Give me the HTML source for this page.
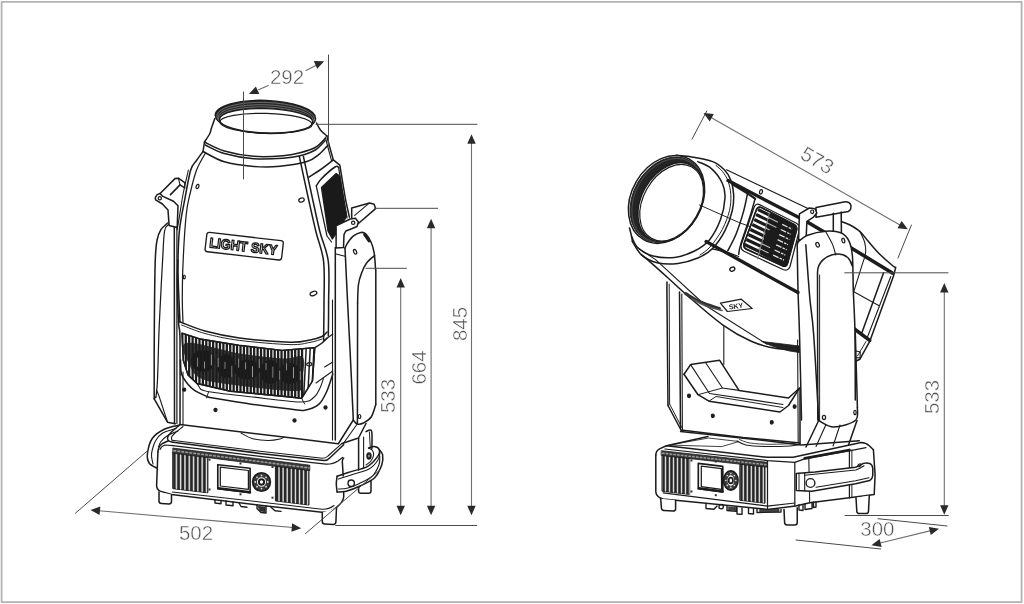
<!DOCTYPE html>
<html><head><meta charset="utf-8"><title>Dimensions</title>
<style>
html,body{margin:0;padding:0;background:#fff;}
body{width:1024px;height:604px;overflow:hidden;position:relative;font-family:"Liberation Sans",sans-serif;}
.frame{position:absolute;left:0;top:0;width:1020px;height:600px;border:2px solid #b4b4b4;box-shadow:inset 0 0 0 1px #dcdcdc;}
svg{position:absolute;left:0;top:0;filter:grayscale(1);}
.dim{font-family:"Liberation Sans",sans-serif;fill:#535353;stroke:#fff;stroke-width:0.45px;paint-order:fill stroke;}
.logo{font-family:"Liberation Sans",sans-serif;font-weight:bold;}
</style></head><body>
<svg width="1024" height="604" viewBox="0 0 1024 604" stroke-linecap="round" stroke-linejoin="round">
<rect x="1.6" y="1.8" width="1020" height="600.3" fill="none" stroke="#b2b2b2" stroke-width="1.8"/>
<ellipse cx="265.4" cy="116.9" rx="50.2" ry="16.5" fill="#262626" stroke="#1c1c1c" stroke-width="1.38" transform="rotate(2.0 265.4 116.9)"/>
<ellipse cx="265.7" cy="117.6" rx="48.900000000000006" ry="15.200000000000001" fill="none" stroke="#8a8a8a" stroke-width="0.69" transform="rotate(1.9 265.7 117.6)"/>
<ellipse cx="265.7" cy="118.6" rx="47.6" ry="13.8" fill="none" stroke="#8a8a8a" stroke-width="0.69" transform="rotate(1.9 265.7 118.6)"/>
<ellipse cx="265.7" cy="119.6" rx="46.300000000000004" ry="12.6" fill="none" stroke="#8a8a8a" stroke-width="0.69" transform="rotate(1.9 265.7 119.6)"/>
<ellipse cx="266.1" cy="120.8" rx="46.7" ry="12.2" fill="#fff" stroke="#1c1c1c" stroke-width="1.38" transform="rotate(1.7 266.1 120.8)"/>
<ellipse cx="266" cy="123.3" rx="46.2" ry="9.9" fill="none" stroke="#1c1c1c" stroke-width="1.24" transform="rotate(1.6 266 123.3)"/>
<path d="M214.8,118.6 C214.2,120.2 212.4,125.4 211.5,128.0 C210.6,130.6 210.8,131.7 209.6,134.0 C208.4,136.3 205.3,140.7 204.5,142.0" fill="none" stroke="#1c1c1c" stroke-width="1.52"/>
<path d="M316.6,123.0 C317.2,124.2 318.7,127.8 320.4,130.0 C322.1,132.2 325.8,134.9 326.9,135.9" fill="none" stroke="#1c1c1c" stroke-width="1.52"/>
<path d="M204.5,142.0 C207.8,143.5 216.1,148.6 224.3,151.0 C232.5,153.4 243.8,155.5 253.6,156.3 C263.4,157.1 275.2,156.4 282.9,155.8 C290.6,155.2 294.6,154.2 300.0,152.8 C305.4,151.4 311.0,149.9 315.2,147.5 C319.4,145.1 323.5,140.0 325.1,138.5" fill="none" stroke="#1c1c1c" stroke-width="1.52"/>
<path d="M205.3,145.0 C208.5,146.4 216.2,151.2 224.3,153.5 C232.4,155.8 243.8,157.9 253.6,158.7 C263.4,159.5 275.2,158.8 282.9,158.3 C290.6,157.8 294.6,157.2 300.0,155.8 C305.4,154.4 311.0,152.6 315.2,150.0 C319.4,147.4 323.5,142.1 325.1,140.5" fill="none" stroke="#1c1c1c" stroke-width="1.52"/>
<path d="M203.0,151.5 C206.6,153.2 215.9,159.3 224.3,161.8 C232.7,164.3 244.3,165.7 253.6,166.4 C262.9,167.2 271.1,167.1 280.0,166.3 C288.9,165.5 300.6,163.6 307.0,161.6 C313.4,159.6 315.4,157.1 318.7,154.6 C322.0,152.1 325.5,147.8 326.9,146.4" fill="none" stroke="#1c1c1c" stroke-width="1.52"/>
<path d="M204.5,142.0 L203.0,151.5" fill="none" stroke="#1c1c1c" stroke-width="1.52" />
<path d="M326.9,135.9 C327.3,137.4 328.1,141.2 329.2,145.2 C330.3,149.2 332.6,157.4 333.3,159.9" fill="none" stroke="#1c1c1c" stroke-width="1.52"/>
<path d="M325.3,137.0 C325.7,138.5 326.6,142.1 327.6,146.0 C328.6,149.9 330.9,158.1 331.5,160.5" fill="none" stroke="#1c1c1c" stroke-width="1.10"/>
<path d="M299.3,156.4 C300.9,163.7 305.9,187.4 308.7,200.0 C311.5,212.6 313.5,221.8 316.0,232.0 C318.5,242.2 322.3,249.7 323.6,261.5 C324.9,273.3 324.0,289.9 324.0,303.0 C324.0,316.1 323.7,333.8 323.6,340.0" fill="none" stroke="#1c1c1c" stroke-width="1.52"/>
<path d="M303.4,156.4 C305.0,163.7 310.0,187.4 312.8,200.0 C315.6,212.6 317.4,221.8 320.0,232.0 C322.6,242.2 326.9,249.7 328.3,261.5 C329.7,273.3 328.6,290.6 328.6,303.0 C328.6,315.4 328.4,330.5 328.3,336.0" fill="none" stroke="#1c1c1c" stroke-width="1.52"/>
<path d="M309.0,177.0 C310.8,175.8 315.9,172.8 320.0,170.0 C324.1,167.2 331.1,161.6 333.3,159.9" fill="none" stroke="#1c1c1c" stroke-width="1.52"/>
<path d="M333.3,159.9 L339.8,165.2 L345.6,200.0 L349.4,217.2" fill="none" stroke="#1c1c1c" stroke-width="1.52" />
<path d="M316.3,186.0 C317.1,184.9 317.9,182.4 321.0,179.2 C324.1,176.0 332.1,168.9 335.0,167.0 C337.9,165.1 338.0,167.4 338.6,167.5" fill="none" stroke="#1c1c1c" stroke-width="1.52"/>
<path d="M338.6,167.5 L343.9,200.0 L347.0,218.0" fill="none" stroke="#1c1c1c" stroke-width="1.24" />
<path d="M316.3,186.0 L327.0,236.0 L331.5,242.0" fill="none" stroke="#1c1c1c" stroke-width="1.24" />
<path d="M321.5,187.4 L336.2,173.6 L339.6,176.0 L346.6,216.5 L332.4,239.0 L328.0,231.0 Z" fill="#1a1a1a" stroke="#1c1c1c" stroke-width="1.38" />
<path d="M203.0,151.5 C201.9,153.0 198.6,157.4 196.5,160.5 C194.4,163.6 192.7,163.4 190.7,170.0 C188.7,176.6 186.6,189.9 184.7,199.8 C182.8,209.7 180.6,219.6 179.5,229.6 C178.4,239.6 178.2,251.1 178.0,260.0 C177.8,268.9 178.0,272.7 178.3,283.0 C178.6,293.3 179.7,315.5 180.0,322.0" fill="none" stroke="#1c1c1c" stroke-width="1.52"/>
<path d="M188.4,170.0 C187.6,173.7 184.9,185.1 183.5,192.0 C182.1,198.9 181.2,205.4 180.2,211.7 C179.2,218.0 177.7,226.6 177.2,229.6" fill="none" stroke="#1c1c1c" stroke-width="1.10"/>
<path d="M205.5,153.0 C204.0,155.8 199.2,163.2 196.6,170.0 C194.0,176.8 191.7,186.6 190.0,194.0 C188.3,201.4 187.3,203.7 186.2,214.7 C185.1,225.7 183.8,245.8 183.2,260.0 C182.5,274.2 182.3,289.7 182.3,300.0 C182.3,310.3 182.9,318.3 183.0,322.0" fill="none" stroke="#1c1c1c" stroke-width="1.24"/>
<path d="M180.0,322.0 C180.3,322.1 177.4,321.0 181.6,322.5 C185.8,324.0 195.4,328.4 205.0,331.0 C214.6,333.6 225.2,336.1 239.4,338.0 C253.6,339.9 278.2,341.9 290.0,342.2 C301.8,342.5 304.7,340.9 310.0,340.0 C315.3,339.1 319.2,337.8 322.0,336.5 C324.8,335.2 326.2,332.8 327.0,332.0" fill="none" stroke="#1c1c1c" stroke-width="1.52"/>
<path d="M181.6,325.0 C185.5,326.4 195.4,330.9 205.0,333.5 C214.6,336.1 225.2,338.5 239.4,340.4 C253.6,342.2 278.2,344.3 290.0,344.6 C301.8,344.9 304.7,343.3 310.0,342.4 C315.3,341.5 320.0,339.6 322.0,339.0" fill="none" stroke="#1c1c1c" stroke-width="0.97"/>
<ellipse cx="197.5" cy="186.5" rx="1.3" ry="2.2" fill="none" stroke="#1c1c1c" stroke-width="1.24" transform="rotate(20 197.5 186.5)"/>
<ellipse cx="301.5" cy="200" rx="2.8" ry="2.0" fill="none" stroke="#1c1c1c" stroke-width="1.24" transform="rotate(-20 301.5 200)"/>
<ellipse cx="184.3" cy="277" rx="1.0" ry="2.0" fill="none" stroke="#1c1c1c" stroke-width="1.24"/>
<ellipse cx="313.5" cy="293.5" rx="3.5" ry="2.0" fill="none" stroke="#1c1c1c" stroke-width="1.24" transform="rotate(-20 313.5 293.5)"/>
<g transform="translate(244.2 246.2) rotate(6.6)"><rect x="-38.5" y="-9.7" width="77" height="19.4" rx="2.6" fill="#fff" stroke="#1c1c1c" stroke-width="1.35"/><text x="-0.8" y="5" text-anchor="middle" class="logo" font-size="13.8" fill="#fff" stroke="#1c1c1c" stroke-width="1.35" textLength="68" lengthAdjust="spacingAndGlyphs">LIGHT SKY</text></g>
<clipPath id="gclip"><path d="M182,333.2 L200,339 L239,345.3 L282,350.4 L314.8,347.7 L312.5,381 L301.6,398.4 L290,397 L230,391.2 L197,383.5 L188,375 L183.2,360 Z"/></clipPath>
<path d="M182,333.2 L200,339 L239,345.3 L282,350.4 L314.8,347.7 L312.5,381 L301.6,398.4 L290,397 L230,391.2 L197,383.5 L188,375 L183.2,360 Z" fill="#fff" stroke="#1c1c1c" stroke-width="1.3"/>
<g clip-path="url(#gclip)">
<path d="M186.0,343.0 C194.3,340.9 223.8,350.9 240.0,353.5 C256.2,356.1 272.5,357.8 283.0,358.5 C293.5,359.2 300.0,353.4 303.0,357.5 C306.0,361.6 302.3,377.4 301.0,383.0 C299.7,388.6 306.8,390.8 295.0,391.0 C283.2,391.2 245.7,386.6 230.0,384.5 C214.3,382.4 207.7,381.6 201.0,378.5 C194.3,375.4 192.5,371.9 190.0,366.0 C187.5,360.1 177.7,345.1 186.0,343.0 Z" fill="#3c3c3c" stroke="none" stroke-width="0.00"/>
<g fill="#161616" opacity="0.9">
<ellipse cx="203" cy="361" rx="12" ry="11"/>
<ellipse cx="226" cy="366" rx="9" ry="12"/>
<ellipse cx="247" cy="369.5" rx="13" ry="10"/>
<ellipse cx="270" cy="372" rx="10" ry="12"/>
<ellipse cx="290" cy="373.5" rx="11" ry="10.5"/>
</g>
<rect x="181.20" y="325" width="2.3" height="80" fill="#1d1d1d"/>
<rect x="184.62" y="325" width="2.3" height="80" fill="#1d1d1d"/>
<rect x="188.04" y="325" width="2.3" height="80" fill="#1d1d1d"/>
<rect x="191.46" y="325" width="2.3" height="80" fill="#1d1d1d"/>
<rect x="194.88" y="325" width="2.3" height="80" fill="#1d1d1d"/>
<rect x="197.23" y="357.7" width="1.0" height="9" fill="#9a9a9a"/>
<rect x="198.30" y="325" width="2.3" height="80" fill="#1d1d1d"/>
<rect x="201.72" y="325" width="2.3" height="80" fill="#1d1d1d"/>
<rect x="204.07" y="361.5" width="1.0" height="7" fill="#9a9a9a"/>
<rect x="205.14" y="325" width="2.3" height="80" fill="#1d1d1d"/>
<rect x="208.56" y="325" width="2.3" height="80" fill="#1d1d1d"/>
<rect x="210.91" y="354.3" width="1.0" height="11" fill="#9a9a9a"/>
<rect x="211.98" y="325" width="2.3" height="80" fill="#1d1d1d"/>
<rect x="215.40" y="325" width="2.3" height="80" fill="#1d1d1d"/>
<rect x="217.75" y="358.1" width="1.0" height="9" fill="#9a9a9a"/>
<rect x="218.82" y="325" width="2.3" height="80" fill="#1d1d1d"/>
<rect x="222.24" y="325" width="2.3" height="80" fill="#1d1d1d"/>
<rect x="224.59" y="361.9" width="1.0" height="7" fill="#9a9a9a"/>
<rect x="225.66" y="325" width="2.3" height="80" fill="#1d1d1d"/>
<rect x="229.08" y="325" width="2.3" height="80" fill="#1d1d1d"/>
<rect x="231.43" y="365.8" width="1.0" height="11" fill="#9a9a9a"/>
<rect x="232.50" y="325" width="2.3" height="80" fill="#1d1d1d"/>
<rect x="235.92" y="325" width="2.3" height="80" fill="#1d1d1d"/>
<rect x="238.27" y="358.6" width="1.0" height="9" fill="#9a9a9a"/>
<rect x="239.34" y="325" width="2.3" height="80" fill="#1d1d1d"/>
<rect x="242.76" y="325" width="2.3" height="80" fill="#1d1d1d"/>
<rect x="245.11" y="362.4" width="1.0" height="7" fill="#9a9a9a"/>
<rect x="246.18" y="325" width="2.3" height="80" fill="#1d1d1d"/>
<rect x="249.60" y="325" width="2.3" height="80" fill="#1d1d1d"/>
<rect x="251.95" y="366.2" width="1.0" height="11" fill="#9a9a9a"/>
<rect x="253.02" y="325" width="2.3" height="80" fill="#1d1d1d"/>
<rect x="256.44" y="325" width="2.3" height="80" fill="#1d1d1d"/>
<rect x="258.79" y="359.1" width="1.0" height="9" fill="#9a9a9a"/>
<rect x="259.86" y="325" width="2.3" height="80" fill="#1d1d1d"/>
<rect x="263.28" y="325" width="2.3" height="80" fill="#1d1d1d"/>
<rect x="265.63" y="362.9" width="1.0" height="7" fill="#9a9a9a"/>
<rect x="266.70" y="325" width="2.3" height="80" fill="#1d1d1d"/>
<rect x="270.12" y="325" width="2.3" height="80" fill="#1d1d1d"/>
<rect x="272.47" y="366.7" width="1.0" height="11" fill="#9a9a9a"/>
<rect x="273.54" y="325" width="2.3" height="80" fill="#1d1d1d"/>
<rect x="276.96" y="325" width="2.3" height="80" fill="#1d1d1d"/>
<rect x="279.31" y="370.5" width="1.0" height="9" fill="#9a9a9a"/>
<rect x="280.38" y="325" width="2.3" height="80" fill="#1d1d1d"/>
<rect x="283.80" y="325" width="2.3" height="80" fill="#1d1d1d"/>
<rect x="286.15" y="363.3" width="1.0" height="7" fill="#9a9a9a"/>
<rect x="287.22" y="325" width="2.3" height="80" fill="#1d1d1d"/>
<rect x="290.64" y="325" width="2.3" height="80" fill="#1d1d1d"/>
<rect x="292.99" y="367.2" width="1.0" height="11" fill="#9a9a9a"/>
<rect x="294.06" y="325" width="2.3" height="80" fill="#1d1d1d"/>
<rect x="297.48" y="325" width="2.3" height="80" fill="#1d1d1d"/>
<rect x="299.83" y="371.0" width="1.0" height="9" fill="#9a9a9a"/>
<rect x="300.90" y="325" width="2.3" height="80" fill="#1d1d1d"/>
<rect x="304.60" y="325" width="1.5" height="80" fill="#1d1d1d" transform="rotate(3 304.6 365)"/>
<rect x="308.60" y="325" width="1.5" height="80" fill="#1d1d1d" transform="rotate(3 308.6 365)"/>
<rect x="312.40" y="325" width="1.5" height="80" fill="#1d1d1d" transform="rotate(3 312.4 365)"/>
</g>
<path d="M182,333.2 L200,339 L239,345.3 L282,350.4 L314.8,347.7 L312.5,381 L301.6,398.4 L290,397 L230,391.2 L197,383.5 L188,375 L183.2,360 Z" fill="none" stroke="#1c1c1c" stroke-width="1.4"/>
<path d="M180.5,360.0 C180.7,362.3 180.4,370.2 181.5,374.0 C182.6,377.8 184.8,380.3 187.0,383.0 C189.2,385.7 190.9,387.9 194.5,390.3 C198.1,392.7 206.2,396.1 208.6,397.3" fill="none" stroke="#1c1c1c" stroke-width="1.52"/>
<path d="M208.6,397.3 C215.5,398.4 236.4,402.1 250.0,404.0 C263.6,405.9 280.9,408.0 290.0,409.0 C299.1,410.0 299.9,411.0 304.7,410.2 C309.5,409.4 315.1,407.4 318.7,404.4 C322.3,401.4 324.1,397.1 326.5,392.0 C328.9,386.9 331.8,376.9 332.8,373.9" fill="none" stroke="#1c1c1c" stroke-width="1.52"/>
<path d="M200.4,389.0 C201.8,389.4 200.3,390.4 208.6,391.7 C216.9,393.0 234.8,395.0 250.0,396.7 C265.2,398.4 289.3,401.9 300.0,402.0 C310.7,402.1 310.7,399.6 314.0,397.3 C317.3,395.0 318.4,391.1 320.0,388.0 C321.6,384.9 322.8,380.2 323.4,378.6" fill="none" stroke="#1c1c1c" stroke-width="1.10"/>
<path d="M197.0,383.5 L200.4,389.0" fill="none" stroke="#1c1c1c" stroke-width="1.10" />
<path d="M208.6,391.7 L206.6,398.0" fill="none" stroke="#1c1c1c" stroke-width="0.97" />
<path d="M301.6,398.4 L304.7,404.0" fill="none" stroke="#1c1c1c" stroke-width="0.97" />
<path d="M314.8,347.7 C316.0,346.9 320.0,344.6 322.0,343.0 C324.0,341.4 326.2,338.8 327.0,338.0" fill="none" stroke="#1c1c1c" stroke-width="1.52"/>
<path d="M323.4,341.0 L332.8,334.0" fill="none" stroke="#1c1c1c" stroke-width="1.10" />
<path d="M324.6,367.0 L332.8,362.0" fill="none" stroke="#1c1c1c" stroke-width="1.10" />
<path d="M316.0,383.0 L332.8,371.0" fill="none" stroke="#1c1c1c" stroke-width="1.10" />
<ellipse cx="309.3" cy="364.3" rx="2.6" ry="1.6" fill="none" stroke="#1c1c1c" stroke-width="1.24" transform="rotate(-10 309.3 364.3)"/>
<path d="M160.1,193.5 L162.4,196.1 L173.5,201.3 L178.0,205.8 L177.2,227.4 L169.1,225.4 L168.0,210.0 L162.4,204.0 L155.6,199.8 L155.3,197.6 L157.1,194.6 Z" fill="#fff" stroke="#1c1c1c" stroke-width="1.52" />
<path d="M160.1,193.5 L175.0,178.6 L178.4,178.2 L184.7,182.7" fill="none" stroke="#1c1c1c" stroke-width="1.52" />
<path d="M170.5,194.6 L180.0,184.9 L184.7,187.9" fill="none" stroke="#1c1c1c" stroke-width="1.52" />
<path d="M180.0,184.9 L178.4,178.2" fill="none" stroke="#1c1c1c" stroke-width="1.10" />
<path d="M184.7,182.7 L184.7,187.9" fill="none" stroke="#1c1c1c" stroke-width="1.10" />
<ellipse cx="159.8" cy="198.3" rx="1.6" ry="1.6" fill="none" stroke="#1c1c1c" stroke-width="1.24"/>
<path d="M167.6,223.0 C166.5,224.1 162.7,226.8 160.9,229.6 C159.2,232.4 158.1,234.6 157.1,240.0 C156.1,245.4 155.7,247.0 155.2,262.0 C154.7,277.0 154.5,307.2 154.3,330.0 C154.1,352.8 154.2,387.3 154.2,398.8" fill="none" stroke="#1c1c1c" stroke-width="1.52"/>
<path d="M154.2,398.8 L167.5,422.2 L175.3,423.8" fill="none" stroke="#1c1c1c" stroke-width="1.52" />
<path d="M169.0,224.0 C168.3,225.2 165.7,225.0 164.6,231.0 C163.5,237.0 163.3,248.5 162.6,260.0 C161.9,271.5 161.1,287.7 160.5,300.0 C159.9,312.3 159.4,320.7 158.9,334.0 C158.4,347.3 158.0,369.5 157.5,380.0 C157.0,390.5 156.2,394.2 156.0,397.0" fill="none" stroke="#1c1c1c" stroke-width="1.24"/>
<path d="M156.0,397.0 L154.2,398.8" fill="none" stroke="#1c1c1c" stroke-width="1.10" />
<path d="M156.5,390.0 L159.0,396.0 L167.5,422.2" fill="none" stroke="#1c1c1c" stroke-width="1.10" />
<line x1="174.3" y1="227" x2="174.5" y2="423.5" stroke="#1c1c1c" stroke-width="1.52"/>
<line x1="176.9" y1="228" x2="176.9" y2="423.5" stroke="#1c1c1c" stroke-width="1.24"/>
<path d="M178.0,260.0 C177.9,263.8 177.2,272.7 177.3,283.0 C177.4,293.3 178.1,312.5 178.5,322.0 C178.9,331.5 179.8,323.1 180.0,340.0 C180.2,356.9 180.0,409.6 180.0,423.5" fill="none" stroke="#1c1c1c" stroke-width="1.52"/>
<path d="M351.7,217.6 L351.7,207.9 L369.6,203.1 L374.1,204.2 L375.6,208.6 L358.4,223.5" fill="#fff" stroke="#1c1c1c" stroke-width="1.52" />
<path d="M354.7,215.3 L368.9,203.4" fill="none" stroke="#1c1c1c" stroke-width="1.10" />
<path d="M336.1,225.8 L350.2,219.0 L355.4,218.3 L358.4,222.0 L357.0,226.5 L351.7,228.7 L345.8,231.0 L344.0,234.7 L343.5,247.4 L336.1,248.1 Z" fill="#fff" stroke="#1c1c1c" stroke-width="1.52" />
<ellipse cx="353.2" cy="222.8" rx="1.7" ry="1.7" fill="none" stroke="#1c1c1c" stroke-width="1.24"/>
<path d="M345.0,248.1 C345.4,247.3 345.9,245.6 347.2,243.6 C348.6,241.6 351.0,238.0 353.2,236.2 C355.4,234.3 358.6,232.9 360.7,232.5 C362.8,232.1 364.2,232.4 365.9,234.0 C367.6,235.6 369.7,239.1 371.1,242.2 C372.5,245.3 373.4,248.0 374.1,252.6 C374.9,257.2 375.4,267.1 375.6,270.0" fill="none" stroke="#1c1c1c" stroke-width="1.52"/>
<line x1="375.8" y1="270" x2="375.8" y2="404.4" stroke="#1c1c1c" stroke-width="1.52"/>
<path d="M375.8,404.4 C375.0,406.5 373.3,413.9 371.2,417.0 C369.2,420.1 365.7,421.8 363.4,423.0 C361.1,424.2 358.9,424.5 357.2,424.0 C355.5,423.5 353.9,420.7 353.3,420.0" fill="none" stroke="#1c1c1c" stroke-width="1.52"/>
<path d="M345.0,248.1 C345.2,253.4 345.8,266.4 346.5,280.0 C347.2,293.6 348.2,315.0 349.0,330.0 C349.8,345.0 350.3,355.0 351.0,370.0 C351.7,385.0 352.9,411.7 353.3,420.0" fill="none" stroke="#1c1c1c" stroke-width="1.52"/>
<path d="M374.6,255.6 C373.3,256.8 368.8,260.0 366.6,263.0 C364.4,266.0 362.8,269.7 361.4,273.4 C360.0,277.1 359.0,280.1 358.4,285.0 C357.8,289.9 357.7,300.0 357.6,303.0" fill="none" stroke="#1c1c1c" stroke-width="1.52"/>
<line x1="357.6" y1="303" x2="357.4" y2="423.5" stroke="#1c1c1c" stroke-width="1.52"/>
<ellipse cx="355.1" cy="251.8" rx="1.4" ry="2.4" fill="none" stroke="#1c1c1c" stroke-width="1.24" transform="rotate(-25 355.1 251.8)"/>
<ellipse cx="359.5" cy="416.5" rx="1.3" ry="2.0" fill="none" stroke="#1c1c1c" stroke-width="1.24"/>
<line x1="335.3" y1="247.5" x2="335.3" y2="440" stroke="#1c1c1c" stroke-width="1.52"/>
<line x1="332.5" y1="300" x2="332.5" y2="440" stroke="#1c1c1c" stroke-width="1.10"/>
<path d="M336.0,254.0 L345.0,256.3" fill="none" stroke="#1c1c1c" stroke-width="1.10" />
<path d="M364.5,234.5 L369,241" fill="none" stroke="#1c1c1c" stroke-width="2.76" />
<path d="M353.3,420.0 L338.5,443.5" fill="none" stroke="#1c1c1c" stroke-width="1.52" />
<path d="M366.0,423.5 L358.5,438.0 L342.0,443.5" fill="none" stroke="#1c1c1c" stroke-width="1.52" />
<path d="M357.2,424.0 L343.0,444.0" fill="none" stroke="#1c1c1c" stroke-width="1.10" />
<path d="M180.0,424.5 L290.0,437.8 L338.0,443.8" fill="none" stroke="#1c1c1c" stroke-width="1.52" />
<path d="M183.0,372.0 L183.0,424.8" fill="none" stroke="#1c1c1c" stroke-width="1.10" />
<ellipse cx="184.2" cy="389.7" rx="1.6" ry="1.6" fill="#1c1c1c" stroke="#1c1c1c" stroke-width="1.10"/>
<ellipse cx="215.5" cy="410" rx="1.6" ry="1.6" fill="#1c1c1c" stroke="#1c1c1c" stroke-width="1.10"/>
<ellipse cx="325.5" cy="407.5" rx="1.6" ry="1.6" fill="#1c1c1c" stroke="#1c1c1c" stroke-width="1.10"/>
<ellipse cx="294.5" cy="420.5" rx="1.6" ry="1.6" fill="#1c1c1c" stroke="#1c1c1c" stroke-width="1.10"/>
<path d="M241.0,433.0 C242.8,433.9 247.5,437.2 252.0,438.5 C256.5,439.8 263.3,440.4 268.0,440.5 C272.7,440.6 277.3,439.6 280.0,439.0 C282.7,438.4 283.3,437.3 284.0,437.0" fill="none" stroke="#1c1c1c" stroke-width="1.10"/>
<path d="M179.7,425.0 C177.2,425.7 169.4,426.8 164.8,429.0 C160.2,431.2 155.3,434.2 152.4,438.2 C149.5,442.2 148.1,448.9 147.5,453.0 C146.9,457.1 147.6,460.5 149.1,463.0 C150.6,465.5 155.3,467.2 156.6,468.0" fill="none" stroke="#1c1c1c" stroke-width="1.52"/>
<path d="M176.0,428.5 C173.7,429.3 165.4,431.4 162.0,433.5 C158.6,435.6 157.1,438.4 155.5,441.0 C153.9,443.6 153.2,446.5 152.5,449.0 C151.8,451.5 151.4,453.5 151.5,456.0 C151.6,458.5 152.8,462.7 153.0,464.0" fill="none" stroke="#1c1c1c" stroke-width="1.10"/>
<path d="M178.0,431.0 C176.2,431.8 169.8,434.2 167.0,436.0 C164.2,437.8 162.4,439.7 161.0,441.5 C159.6,443.3 158.9,446.1 158.5,447.0" fill="none" stroke="#1c1c1c" stroke-width="1.10"/>
<path d="M358.6,438.5 L358.6,470.0" fill="none" stroke="#1c1c1c" stroke-width="1.52" />
<path d="M363.6,437.0 L363.6,468.0" fill="none" stroke="#1c1c1c" stroke-width="1.10" />
<path d="M366.0,431.6 C366.7,431.3 369.2,429.8 370.2,430.0 C371.2,430.2 371.6,429.9 371.9,433.0 C372.2,436.1 371.9,445.9 371.9,448.5" fill="none" stroke="#1c1c1c" stroke-width="1.52"/>
<path d="M369.4,432.0 L370.2,447.0" fill="none" stroke="#1c1c1c" stroke-width="0.97" />
<path d="M358.6,487 L358.6,491 Q358.6,493.3 361,493.3 L368.6,493.3 Q371,493.3 371,491 L371,480.4" fill="#fff" stroke="#1c1c1c" stroke-width="1.52" />
<path d="M337.1,476.3 C339.2,475.6 344.4,473.8 349.5,472.1 C354.6,470.4 363.0,468.9 367.7,466.3 C372.4,463.7 375.8,459.1 377.7,456.4 C379.6,453.6 379.9,451.4 379.3,449.8 C378.8,448.2 376.2,446.8 374.4,446.5 C372.6,446.2 369.6,447.8 368.6,448.1" fill="none" stroke="#1c1c1c" stroke-width="1.52"/>
<path d="M337.1,492.0 C338.6,491.9 342.5,492.2 346.2,491.2 C349.9,490.2 354.8,488.4 359.5,486.2 C364.2,484.0 370.7,481.6 374.4,478.0 C378.1,474.4 380.4,468.6 381.8,464.7 C383.2,460.8 383.0,457.2 382.6,454.7 C382.2,452.2 379.9,450.6 379.3,449.8" fill="none" stroke="#1c1c1c" stroke-width="1.52"/>
<path d="M337.1,476.3 C337.0,477.6 336.3,481.4 336.3,484.0 C336.3,486.6 337.0,490.7 337.1,492.0" fill="none" stroke="#1c1c1c" stroke-width="1.52"/>
<path d="M338.5,479.0 C340.6,478.3 345.9,476.7 351.0,475.0 C356.1,473.3 364.5,471.5 369.0,469.0 C373.5,466.5 376.2,462.8 378.0,460.0 C379.8,457.2 379.7,453.8 380.0,452.5" fill="none" stroke="#1c1c1c" stroke-width="1.10"/>
<path d="M338.5,489.0 C339.9,488.9 343.6,489.2 347.0,488.3 C350.4,487.4 354.8,485.8 359.0,483.7 C363.2,481.6 369.2,479.2 372.5,476.0 C375.8,472.8 377.8,467.8 379.0,464.5 C380.2,461.2 379.7,457.4 379.8,456.0" fill="none" stroke="#1c1c1c" stroke-width="1.10"/>
<path d="M368.6,448.1 C369.2,448.5 371.7,449.3 372.5,450.5 C373.3,451.7 373.8,453.8 373.5,455.5 C373.2,457.2 372.2,459.4 371.0,461.0 C369.8,462.6 366.8,464.3 366.0,465.0" fill="none" stroke="#1c1c1c" stroke-width="1.10"/>
<ellipse cx="351.2" cy="483.2" rx="3.2" ry="3.2" fill="#fff" stroke="#1c1c1c" stroke-width="1.38"/>
<ellipse cx="369" cy="456" rx="1.6" ry="2.6" fill="none" stroke="#1c1c1c" stroke-width="2.21"/>
<path d="M173.1,442.3 L260,453.4 L323.9,460.5 Q327.5,460.6 329.7,458 L343.7,444.8" fill="none" stroke="#1c1c1c" stroke-width="1.52" />
<path d="M172,440.2 L260,451.2 L322.5,458.2 Q326,458.3 328,456 L341.7,443.6" fill="none" stroke="#1c1c1c" stroke-width="1.10" />
<path d="M179.7,425.0 C178.2,426.2 173.0,430.5 171.0,432.5 C169.0,434.5 168.1,435.6 167.7,437.0 C167.3,438.4 167.6,439.9 168.5,440.8 C169.4,441.7 172.3,442.1 173.1,442.3" fill="none" stroke="#1c1c1c" stroke-width="1.52"/>
<path d="M183.0,426.5 C181.6,427.7 176.4,431.7 174.5,433.5 C172.6,435.3 171.9,436.2 171.5,437.3 C171.1,438.4 171.9,439.7 172.0,440.2" fill="none" stroke="#1c1c1c" stroke-width="1.10"/>
<path d="M157.9,452 Q158.3,446 163,443.2 L168.5,440.8" fill="none" stroke="#1c1c1c" stroke-width="1.52" />
<path d="M157.9,452 L156.6,485.5 Q156.8,490 161,491.6 L171.5,494.5 L260,505.2 L322,512.3 Q330,512.5 336.3,507.7 Q343.2,502 343.7,497 L343.7,492.5" fill="none" stroke="#1c1c1c" stroke-width="1.52" />
<path d="M343.2,476 L342.3,461.5 Q342.3,459.4 343.7,458" fill="none" stroke="#1c1c1c" stroke-width="1.52" />
<path d="M172.3,492 L260,502 L322,509.3 Q329,509.5 334,505.5" fill="none" stroke="#1c1c1c" stroke-width="1.10" />
<path d="M173.1,445.6 L260,456.4 L309.8,462.4 L326,464.2 Q333,464.4 338,461 L342.5,457.5" fill="none" stroke="#1c1c1c" stroke-width="1.24" />
<path d="M160,449.5 Q161.5,446 165,445 L173.1,445.6" fill="none" stroke="#1c1c1c" stroke-width="1.10" />
<path d="M159,492 L159,501 Q159,503.4 161.5,503.5 L169,504 Q171.5,504 171.5,501.6 L171.5,494.5" fill="#fff" stroke="#1c1c1c" stroke-width="1.52" />
<path d="M322.3,512.5 L322.3,521.5 Q322.3,524 324.8,524.1 L333.3,524.4 Q335.8,524.4 335.9,522 L336.5,508" fill="#fff" stroke="#1c1c1c" stroke-width="1.52" />
<clipPath id="fl1"><path d="M173.1,452.5 L207.9,457 L207.9,492.8 L173.1,488.7 Z"/></clipPath>
<path d="M173.1,452.5 L207.9,457 L207.9,492.8 L173.1,488.7 Z" fill="#8c8c8c" stroke="#1c1c1c" stroke-width="1.0"/>
<g clip-path="url(#fl1)">
<rect x="173.10" y="451.5" width="2.3" height="42.30000000000001" fill="#262626"/>
<rect x="175.95" y="451.5" width="0.75" height="42.30000000000001" fill="#f4f4f4"/>
<rect x="177.40" y="451.5" width="2.3" height="42.30000000000001" fill="#262626"/>
<rect x="180.25" y="451.5" width="0.75" height="42.30000000000001" fill="#f4f4f4"/>
<rect x="181.70" y="451.5" width="2.3" height="42.30000000000001" fill="#262626"/>
<rect x="184.55" y="451.5" width="0.75" height="42.30000000000001" fill="#f4f4f4"/>
<rect x="186.00" y="451.5" width="2.3" height="42.30000000000001" fill="#262626"/>
<rect x="188.85" y="451.5" width="0.75" height="42.30000000000001" fill="#f4f4f4"/>
<rect x="190.30" y="451.5" width="2.3" height="42.30000000000001" fill="#262626"/>
<rect x="193.15" y="451.5" width="0.75" height="42.30000000000001" fill="#f4f4f4"/>
<rect x="194.60" y="451.5" width="2.3" height="42.30000000000001" fill="#262626"/>
<rect x="197.45" y="451.5" width="0.75" height="42.30000000000001" fill="#f4f4f4"/>
<rect x="198.90" y="451.5" width="2.3" height="42.30000000000001" fill="#262626"/>
<rect x="201.75" y="451.5" width="0.75" height="42.30000000000001" fill="#f4f4f4"/>
<rect x="203.20" y="451.5" width="2.3" height="42.30000000000001" fill="#262626"/>
<rect x="206.05" y="451.5" width="0.75" height="42.30000000000001" fill="#f4f4f4"/>
<rect x="207.50" y="451.5" width="2.3" height="42.30000000000001" fill="#262626"/>
<rect x="210.35" y="451.5" width="0.75" height="42.30000000000001" fill="#f4f4f4"/>
</g>
<clipPath id="fl2"><path d="M275.8,466 L309,470.5 L309,505 L275.8,501 Z"/></clipPath>
<path d="M275.8,466 L309,470.5 L309,505 L275.8,501 Z" fill="#8c8c8c" stroke="#1c1c1c" stroke-width="1.0"/>
<g clip-path="url(#fl2)">
<rect x="275.80" y="465" width="2.3" height="41" fill="#262626"/>
<rect x="278.65" y="465" width="0.75" height="41" fill="#f4f4f4"/>
<rect x="279.90" y="465" width="2.3" height="41" fill="#262626"/>
<rect x="282.75" y="465" width="0.75" height="41" fill="#f4f4f4"/>
<rect x="284.00" y="465" width="2.3" height="41" fill="#262626"/>
<rect x="286.85" y="465" width="0.75" height="41" fill="#f4f4f4"/>
<rect x="288.10" y="465" width="2.3" height="41" fill="#262626"/>
<rect x="290.95" y="465" width="0.75" height="41" fill="#f4f4f4"/>
<rect x="292.20" y="465" width="2.3" height="41" fill="#262626"/>
<rect x="295.05" y="465" width="0.75" height="41" fill="#f4f4f4"/>
<rect x="296.30" y="465" width="2.3" height="41" fill="#262626"/>
<rect x="299.15" y="465" width="0.75" height="41" fill="#f4f4f4"/>
<rect x="300.40" y="465" width="2.3" height="41" fill="#262626"/>
<rect x="303.25" y="465" width="0.75" height="41" fill="#f4f4f4"/>
<rect x="304.50" y="465" width="2.3" height="41" fill="#262626"/>
<rect x="307.35" y="465" width="0.75" height="41" fill="#f4f4f4"/>
<rect x="308.60" y="465" width="2.3" height="41" fill="#262626"/>
<rect x="311.45" y="465" width="0.75" height="41" fill="#f4f4f4"/>
</g>
<path d="M173.1,448.1 L309.8,465.2 L309.8,470.6 L173.1,453.2 Z" fill="#3a3a3a" stroke="#1c1c1c" stroke-width="0.8"/>
<path d="M174,450.7 L309,467.9" stroke="#9a9a9a" stroke-width="1.6" stroke-dasharray="1.6 2.4" fill="none"/>
<path d="M217.8,464.7 L250.1,468.3 L250.1,492.8 L217.8,488.7 Z" fill="#fff" stroke="#1c1c1c" stroke-width="1.66" />
<path d="M220.3,467.2 L248.4,470.5 L248.4,489.3 L220.3,486.0 Z" fill="#fff" stroke="#1c1c1c" stroke-width="1.24" />
<path d="M218.3,488.3 L250.0,492.3" fill="none" stroke="#1c1c1c" stroke-width="2.48" />
<rect x="208.5" y="458.7" width="2" height="2" fill="#333"/>
<rect x="208.5" y="488.5" width="2" height="2" fill="#333"/>
<rect x="271.5" y="466" width="2" height="2" fill="#333"/>
<rect x="271.5" y="496.7" width="2" height="2" fill="#333"/>
<rect x="239.5" y="462.5" width="2" height="2" fill="#333"/>
<rect x="239.5" y="493.3" width="2" height="2" fill="#333"/>
<ellipse cx="261.5" cy="482" rx="8.6" ry="9.0" fill="#fff" stroke="#1c1c1c" stroke-width="2.21"/>
<ellipse cx="261.5" cy="482" rx="6.3" ry="6.6" fill="#fff" stroke="#3a3a3a" stroke-width="3.59"/>
<ellipse cx="261.5" cy="482" rx="2.6" ry="2.8" fill="#fff" stroke="#1c1c1c" stroke-width="1.93"/>
<circle cx="267.8" cy="482.0" r="0.9" fill="#ddd"/>
<circle cx="266.0" cy="486.7" r="0.9" fill="#ddd"/>
<circle cx="261.5" cy="488.6" r="0.9" fill="#ddd"/>
<circle cx="257.0" cy="486.7" r="0.9" fill="#ddd"/>
<circle cx="255.2" cy="482.0" r="0.9" fill="#ddd"/>
<circle cx="257.0" cy="477.3" r="0.9" fill="#ddd"/>
<circle cx="261.5" cy="475.4" r="0.9" fill="#ddd"/>
<circle cx="266.0" cy="477.3" r="0.9" fill="#ddd"/>
<path d="M215,499.6 L215,503 L221,503.7 L221,500.4 M226,501 L226,505 L233,505.8 L233,501.8 M239,503 L241,506.5 L247,507.2 M257,504.8 L257,508.5 L261,512.5 L266,513 L266,505.9 M271,507.2 L275,510.8 L281,511.4" fill="none" stroke="#1c1c1c" stroke-width="1.38" />
<path d="M258.5,506.5 L265,507.2 L265,511.6 L260.5,511.1 Z" fill="#333" stroke="#1c1c1c" stroke-width="0.83" />
<path d="M667.0,282.0 C667.0,285.0 666.8,279.4 667.0,300.0 C667.2,320.6 667.8,387.9 668.0,405.5" fill="none" stroke="#1c1c1c" stroke-width="1.52"/>
<path d="M668.0,405.5 L681.0,430.0" fill="none" stroke="#1c1c1c" stroke-width="1.52" />
<line x1="669.2" y1="284" x2="669.6" y2="404" stroke="#1c1c1c" stroke-width="0.97"/>
<line x1="679.5" y1="292" x2="680.5" y2="428" stroke="#1c1c1c" stroke-width="1.52"/>
<line x1="681.8" y1="294" x2="682.4" y2="431" stroke="#1c1c1c" stroke-width="1.10"/>
<path d="M669.6,404.0 L682.0,428.0" fill="none" stroke="#1c1c1c" stroke-width="0.97" />
<path d="M641.5,254.8 C642.9,256.0 645.6,258.0 650.0,261.8 C654.4,265.6 661.2,271.7 667.8,277.7 C674.4,283.7 680.4,289.7 689.7,297.6 C699.0,305.6 713.1,318.1 723.4,325.4 C733.6,332.7 742.6,337.5 751.2,341.3 C759.8,345.1 767.0,346.9 775.0,348.2 C783.0,349.5 794.9,349.0 798.9,349.2" fill="none" stroke="#1c1c1c" stroke-width="1.52"/>
<path d="M638.2,248.1 L655.9,259.9 L705.5,305.5 L767.1,344.3" fill="none" stroke="#1c1c1c" stroke-width="1.10" />
<path d="M762,341.5 L799.3,346 L799.3,352.5 Q778,350 762,341.5 Z" fill="#222" stroke="#1c1c1c" stroke-width="0.83" />
<line x1="723.8" y1="326.4" x2="723.8" y2="364.6" stroke="#1c1c1c" stroke-width="1.10"/>
<path d="M676.3,155.3 C678.5,155.5 683.4,155.6 689.5,156.6 C695.6,157.6 706.9,159.4 712.7,161.6 C718.5,163.8 721.5,167.0 724.5,170.0 C727.5,173.0 729.0,175.6 730.5,179.6 C732.0,183.6 733.3,188.9 733.6,194.1 C733.9,199.2 733.7,204.4 732.3,210.5 C730.9,216.6 728.3,224.2 725.0,230.6 C721.7,237.0 716.8,244.2 712.3,248.8 C707.8,253.4 703.5,255.6 697.8,258.0 C692.1,260.4 684.6,262.7 678.0,263.5 C671.4,264.3 664.2,264.4 658.1,263.0 C652.0,261.6 645.8,258.4 641.5,254.8 C637.2,251.2 633.9,243.7 632.4,241.5" fill="none" stroke="#1c1c1c" stroke-width="1.52"/>
<path d="M697.8,161.6 C700.1,162.8 707.3,165.0 711.4,168.6 C715.5,172.2 720.0,178.3 722.3,183.2 C724.6,188.1 725.3,191.7 725.0,197.8 C724.7,203.9 723.1,212.6 720.5,219.6 C717.9,226.6 713.9,234.5 709.6,239.7 C705.3,244.9 700.3,248.1 694.5,251.0 C688.7,253.9 681.5,256.6 674.6,257.4 C667.7,258.2 659.2,257.6 653.1,256.0 C647.0,254.4 641.8,251.3 638.2,248.1 C634.6,244.9 632.7,238.5 631.6,236.6" fill="none" stroke="#1c1c1c" stroke-width="1.52"/>
<path d="M629.5,228.0 C629.9,229.4 631.1,234.3 631.6,236.6 C632.1,238.8 632.3,240.7 632.4,241.5" fill="none" stroke="#1c1c1c" stroke-width="1.52"/>
<path d="M716.0,165.5 C717.1,166.5 720.5,168.9 722.5,171.5 C724.5,174.1 726.6,177.2 728.0,181.0 C729.4,184.8 730.5,189.6 730.8,194.5 C731.0,199.4 730.9,204.7 729.5,210.5 C728.1,216.3 725.5,223.4 722.3,229.5 C719.0,235.6 713.7,242.8 710.0,247.0 C706.3,251.2 701.7,253.7 700.0,255.0" fill="none" stroke="#1c1c1c" stroke-width="0.97"/>
<ellipse cx="666.5" cy="199.4" rx="35.1" ry="46.3" fill="#fff" stroke="#1c1c1c" stroke-width="1.52" transform="rotate(29.6 666.5 199.4)"/>
<ellipse cx="667.0" cy="199.7" rx="33.9" ry="45.2" fill="#242424" stroke="#1c1c1c" stroke-width="0.83" transform="rotate(29.6 667.0 199.7)"/>
<ellipse cx="667.8" cy="200.2" rx="32.9" ry="44.3" fill="none" stroke="#6a6a6a" stroke-width="0.55" transform="rotate(29.6 667.8 200.2)"/>
<ellipse cx="671.0" cy="202.3" rx="29.6" ry="42.2" fill="#fff" stroke="#1c1c1c" stroke-width="1.38" transform="rotate(29.6 671.0 202.3)"/>
<ellipse cx="671.6" cy="202.7" rx="28.3" ry="41.0" fill="#fff" stroke="#1c1c1c" stroke-width="1.24" transform="rotate(29.6 671.6 202.7)"/>
<path d="M726.5,169.8 L809.0,209.0" fill="none" stroke="#1c1c1c" stroke-width="1.24" />
<path d="M728.0,180.5 L799.4,217.8" fill="none" stroke="#1c1c1c" stroke-width="3.31" />
<path d="M807.7,222.3 L848.8,246.5 L892.3,273.0" fill="none" stroke="#1c1c1c" stroke-width="3.59" />
<path d="M841.5,221.5 C842.9,222.1 846.9,223.3 850.0,225.0 C853.1,226.7 857.0,228.9 860.0,231.6 C863.0,234.3 864.8,237.3 868.0,241.0 C871.2,244.7 874.8,249.3 879.0,253.5 C883.2,257.7 890.2,263.7 893.0,266.0 C895.8,268.3 895.2,267.1 895.6,267.3" fill="none" stroke="#1c1c1c" stroke-width="1.52"/>
<path d="M860.0,231.6 C860.8,233.4 863.8,238.9 864.7,242.5 C865.6,246.1 866.0,249.5 865.5,253.4 C865.0,257.3 863.8,259.5 861.8,265.9 C859.8,272.3 855.1,287.4 853.8,291.7" fill="none" stroke="#1c1c1c" stroke-width="1.10"/>
<path d="M895.6,267.9 L893.6,275.8 L869.7,341.4" fill="none" stroke="#1c1c1c" stroke-width="1.52" />
<path d="M890.8,276.5 L866.8,338.8" fill="none" stroke="#1c1c1c" stroke-width="1.10" />
<path d="M883.6,272.8 L861.8,333.0" fill="none" stroke="#1c1c1c" stroke-width="1.52" />
<path d="M853.8,291.7 L878.7,305.6" fill="none" stroke="#1c1c1c" stroke-width="1.10" />
<path d="M853.8,328.5 L869.7,340.4" fill="none" stroke="#1c1c1c" stroke-width="3.59" />
<path d="M869.7,341.4 L859.8,359.3 L855.8,361.3" fill="none" stroke="#1c1c1c" stroke-width="1.52" />
<path d="M866.0,341.5 L857.5,356.0" fill="none" stroke="#1c1c1c" stroke-width="0.97" />
<path d="M855.8,351.0 L860.3,352.0 L860.0,358.0 L855.8,357.6" fill="none" stroke="#1c1c1c" stroke-width="1.10" />
<path d="M747.8,192.3 C747.0,195.7 745.3,205.4 743.3,212.4 C741.3,219.4 738.6,227.8 736.0,234.2 C733.4,240.6 729.2,247.9 727.8,250.6" fill="none" stroke="#1c1c1c" stroke-width="1.52"/>
<path d="M755.1,198.7 C754.2,201.9 752.0,210.1 749.6,217.8 C747.2,225.5 742.3,239.0 740.5,245.1 C738.7,251.2 739.0,252.8 738.7,254.3" fill="none" stroke="#1c1c1c" stroke-width="1.52"/>
<path d="M733.3,184.8 L747.8,193.6 L755.1,198.7" fill="none" stroke="#1c1c1c" stroke-width="2.21" />
<path d="M699.5,205.0 L738.7,222.4 L753.3,227.8" fill="none" stroke="#1c1c1c" stroke-width="0.97" />
<path d="M712.3,248.8 L727.8,252.3 L738.7,256.5" fill="none" stroke="#1c1c1c" stroke-width="1.24" />
<path d="M706.1,241.5 L770.0,277.1 L798.0,292.5" fill="none" stroke="#1c1c1c" stroke-width="3.31" />
<ellipse cx="732.3" cy="269.2" rx="2.6" ry="1.9" fill="none" stroke="#1c1c1c" stroke-width="1.38" transform="rotate(-25 732.3 269.2)"/>
<ellipse cx="761" cy="191.8" rx="1.4" ry="2.3" fill="none" stroke="#1c1c1c" stroke-width="1.24" transform="rotate(15 761 191.8)"/>
<path d="M720.4,303.2 L741.3,299.2 L752.2,308.5 L727.4,311.5 Z" fill="#fff" stroke="#1c1c1c" stroke-width="1.24" />
<text x="736" y="308.6" font-size="7" text-anchor="middle" class="logo" fill="#222" transform="rotate(-8 736 306)">SKY</text>
<path d="M685.7,293.6 C688.0,294.9 694.0,299.1 699.6,301.6 C705.2,304.1 716.1,307.4 719.4,308.5" fill="none" stroke="#333" stroke-width="3.04"/>
<path d="M692.0,299.0 C694.3,300.2 701.0,304.1 706.0,306.0 C711.0,307.9 719.3,309.8 722.0,310.5" fill="none" stroke="#555" stroke-width="1.66"/>
<clipPath id="vclip"><path d="M761.5,207.6 L794.5,224.6 Q797.5,226.5 796.6,230 L787.5,263.5 Q786.2,267.6 782.5,265.8 L746,249 Q743,247.2 744,243.8 L756.5,209.5 Q758,206 761.5,207.6 Z"/></clipPath>
<path d="M761.5,207.6 L794.5,224.6 Q797.5,226.5 796.6,230 L787.5,263.5 Q786.2,267.6 782.5,265.8 L746,249 Q743,247.2 744,243.8 L756.5,209.5 Q758,206 761.5,207.6 Z" fill="#fff" stroke="#1c1c1c" stroke-width="1.38" />
<g clip-path="url(#vclip)">
<path d="M771,211 L797,226 L787,268 L759.5,254 Z" fill="#1c1c1c"/>
<line x1="758.0" y1="209.5" x2="795.8" y2="228.1" stroke="#1c1c1c" stroke-width="3.1" stroke-linecap="butt"/>
<line x1="782.2" y1="224.3" x2="792.1" y2="229.2" stroke="#e4e4e4" stroke-width="1.3" stroke-linecap="butt" stroke-dasharray="6 1.2 2.5 1"/>
<line x1="768.5" y1="217.6" x2="778.0" y2="222.3" stroke="#bdbdbd" stroke-width="1.1" stroke-linecap="butt" />
<line x1="756.1" y1="214.5" x2="794.5" y2="233.3" stroke="#1c1c1c" stroke-width="3.1" stroke-linecap="butt"/>
<line x1="780.7" y1="229.5" x2="790.8" y2="234.4" stroke="#e4e4e4" stroke-width="1.3" stroke-linecap="butt" stroke-dasharray="6 1.2 2.5 1"/>
<line x1="766.8" y1="222.7" x2="776.4" y2="227.4" stroke="#bdbdbd" stroke-width="1.1" stroke-linecap="butt" />
<line x1="754.2" y1="219.5" x2="793.2" y2="238.5" stroke="#1c1c1c" stroke-width="3.1" stroke-linecap="butt"/>
<line x1="779.2" y1="234.6" x2="789.4" y2="239.5" stroke="#e4e4e4" stroke-width="1.3" stroke-linecap="butt" stroke-dasharray="6 1.2 2.5 1"/>
<line x1="765.0" y1="227.7" x2="769.7" y2="230.0" stroke="#bdbdbd" stroke-width="1.1" stroke-linecap="butt" />
<line x1="752.2" y1="224.5" x2="791.9" y2="243.7" stroke="#1c1c1c" stroke-width="3.1" stroke-linecap="butt"/>
<line x1="777.6" y1="239.7" x2="788.0" y2="244.7" stroke="#e4e4e4" stroke-width="1.3" stroke-linecap="butt" stroke-dasharray="6 1.2 2.5 1"/>
<line x1="763.2" y1="232.8" x2="765.6" y2="233.9" stroke="#9a9a9a" stroke-width="1.0" stroke-linecap="butt" />
<line x1="750.3" y1="229.5" x2="790.6" y2="248.8" stroke="#1c1c1c" stroke-width="3.1" stroke-linecap="butt"/>
<line x1="776.1" y1="244.8" x2="786.7" y2="249.9" stroke="#e4e4e4" stroke-width="1.3" stroke-linecap="butt" stroke-dasharray="6 1.2 2.5 1"/>
<line x1="761.5" y1="237.8" x2="763.9" y2="239.0" stroke="#9a9a9a" stroke-width="1.0" stroke-linecap="butt" />
<line x1="748.3" y1="234.5" x2="789.3" y2="254.0" stroke="#1c1c1c" stroke-width="3.1" stroke-linecap="butt"/>
<line x1="774.6" y1="250.0" x2="785.3" y2="255.1" stroke="#e4e4e4" stroke-width="1.3" stroke-linecap="butt" stroke-dasharray="6 1.2 2.5 1"/>
<line x1="759.8" y1="242.9" x2="770.1" y2="247.8" stroke="#bdbdbd" stroke-width="1.1" stroke-linecap="butt" />
<line x1="746.4" y1="239.5" x2="788.0" y2="259.2" stroke="#1c1c1c" stroke-width="3.1" stroke-linecap="butt"/>
<line x1="773.1" y1="255.1" x2="784.0" y2="260.2" stroke="#e4e4e4" stroke-width="1.3" stroke-linecap="butt" stroke-dasharray="6 1.2 2.5 1"/>
<line x1="758.0" y1="247.9" x2="768.5" y2="252.9" stroke="#bdbdbd" stroke-width="1.1" stroke-linecap="butt" />
<line x1="744.5" y1="244.5" x2="786.7" y2="264.4" stroke="#1c1c1c" stroke-width="3.1" stroke-linecap="butt"/>
</g>
<path d="M761.5,207.6 L794.5,224.6 Q797.5,226.5 796.6,230 L787.5,263.5 Q786.2,267.6 782.5,265.8 L746,249 Q743,247.2 744,243.8 L756.5,209.5 Q758,206 761.5,207.6 Z" fill="none" stroke="#1c1c1c" stroke-width="1.52" />
<path d="M759.5,204.6 L796,223 Q800.5,225.5 799.3,230.5 L790,266.5 Q788.2,271.5 783,269.5 L744,251.3 Q740,249 741.3,244.5 L754,207.5 Q755.8,203 759.5,204.6 Z" fill="none" stroke="#1c1c1c" stroke-width="1.24" />
<path d="M769.5,212.5 L763.0,238.0 L757.5,259.0" fill="none" stroke="#7d7d7d" stroke-width="0.97" />
<path d="M816,207.6 L845.2,201.7 Q849.8,201.6 850.9,205.3 Q851.6,209.6 848.2,211.5 L816,217.3 Z" fill="#fff" stroke="#1c1c1c" stroke-width="1.52" />
<path d="M833.3,213.3 L833.3,231.5" fill="none" stroke="#1c1c1c" stroke-width="1.52" />
<path d="M841.2,212.0 L841.4,232.8" fill="none" stroke="#1c1c1c" stroke-width="1.52" />
<path d="M799.4,213.8 L809.3,208.0 L815.1,208.8 L816.8,213.0 L813.5,217.1 L806.9,221.3 L806.0,240.5 L798.6,239.5 Z" fill="#fff" stroke="#1c1c1c" stroke-width="1.52" />
<ellipse cx="812.2" cy="211.8" rx="1.5" ry="1.8" fill="none" stroke="#1c1c1c" stroke-width="1.24"/>
<path d="M796.9,242.8 C798.7,241.6 802.9,237.2 807.7,235.3 C812.5,233.4 820.4,231.6 825.9,231.2 C831.4,230.8 836.9,231.2 840.8,232.8 C844.6,234.5 847.1,237.2 849.0,241.1 C850.9,245.0 851.7,247.8 852.4,256.0 C853.1,264.1 852.9,277.0 853.3,290.0 C853.7,303.0 854.7,315.4 855.0,333.8 C855.3,352.1 855.2,389.0 855.3,400.0" fill="#fff" stroke="#1c1c1c" stroke-width="1.52"/>
<path d="M797.2,244.7 C797.3,252.2 797.6,275.2 798.0,290.0 C798.4,304.8 798.9,312.1 799.5,333.8 C800.1,355.4 801.2,405.6 801.5,420.0" fill="none" stroke="#1c1c1c" stroke-width="1.52"/>
<path d="M805.8,244.7 C806.2,249.8 807.3,265.8 808.0,275.0 C808.7,284.2 809.1,290.2 810.0,300.0 C810.9,309.8 812.1,313.7 813.6,333.8 C815.1,353.8 817.9,406.0 818.7,420.5" fill="none" stroke="#1c1c1c" stroke-width="1.52"/>
<path d="M798.6,239.5 L797.2,244.7" fill="none" stroke="#1c1c1c" stroke-width="1.52" />
<path d="M817.8,420 L817.5,272 C817.8,262.5 825.5,255.3 836.25,254 C845,253.3 850,257.5 852.3,266" fill="none" stroke="#1c1c1c" stroke-width="1.52" />
<path d="M825.9,232.0 C827.0,234.1 830.9,240.6 832.5,244.4 C834.1,248.2 835.2,253.2 835.8,255.0" fill="none" stroke="#1c1c1c" stroke-width="1.10"/>
<ellipse cx="817.6" cy="244.8" rx="1.6" ry="2.4" fill="none" stroke="#1c1c1c" stroke-width="1.24" transform="rotate(-25 817.6 244.8)"/>
<ellipse cx="843.3" cy="240.6" rx="1.4" ry="2.4" fill="none" stroke="#1c1c1c" stroke-width="1.24" transform="rotate(-15 843.3 240.6)"/>
<line x1="819.6" y1="275" x2="819.6" y2="420" stroke="#1c1c1c" stroke-width="0.97"/>
<path d="M818.7,420.5 C821.2,421.6 827.7,427.0 833.8,427.0 C839.9,427.0 851.4,423.7 855.3,420.5 C859.2,417.3 857.0,409.8 857.4,407.6" fill="none" stroke="#1c1c1c" stroke-width="1.52"/>
<path d="M855.3,333.0 L857.4,407.6" fill="none" stroke="#1c1c1c" stroke-width="1.52" />
<ellipse cx="824" cy="417.5" rx="1.6" ry="2.1" fill="none" stroke="#1c1c1c" stroke-width="1.24"/>
<ellipse cx="855" cy="412.5" rx="1.2" ry="2.1" fill="none" stroke="#1c1c1c" stroke-width="1.24"/>
<path d="M818.7,420.5 L806.0,447.0" fill="none" stroke="#1c1c1c" stroke-width="1.52" />
<path d="M857.0,420.5 L848.5,445.0" fill="none" stroke="#1c1c1c" stroke-width="1.52" />
<path d="M826.0,424.5 L816.0,446.5" fill="none" stroke="#1c1c1c" stroke-width="1.10" />
<path d="M840.0,425.0 L833.0,446.0" fill="none" stroke="#1c1c1c" stroke-width="1.10" />
<path d="M684.0,374.3 L690.6,364.6 L719.7,360.3 L739.0,390.4 L788.5,398.0 L799.3,388.3" fill="none" stroke="#1c1c1c" stroke-width="1.52" />
<path d="M684.0,374.3 L698.0,394.7 L709.0,401.2 L780.0,412.0 L788.5,405.5 L799.3,388.3" fill="none" stroke="#1c1c1c" stroke-width="1.52" />
<path d="M690.6,364.6 L709.5,393.5 L783.0,404.5" fill="none" stroke="#1c1c1c" stroke-width="1.10" />
<path d="M705.5,362.5 L722.5,388.0 L739.0,390.4" fill="none" stroke="#1c1c1c" stroke-width="1.10" />
<path d="M698.0,394.7 L722.5,388.0" fill="none" stroke="#1c1c1c" stroke-width="0.97" />
<path d="M709.0,401.2 L716.0,396.5 L783.0,407.5" fill="none" stroke="#1c1c1c" stroke-width="0.97" />
<ellipse cx="689" cy="395.8" rx="1.5" ry="1.8" fill="#1c1c1c" stroke="#1c1c1c" stroke-width="1.10"/>
<ellipse cx="712.8" cy="415.8" rx="1.5" ry="1.8" fill="#1c1c1c" stroke="#1c1c1c" stroke-width="1.10"/>
<ellipse cx="771.75" cy="422.3" rx="1.5" ry="1.8" fill="#1c1c1c" stroke="#1c1c1c" stroke-width="1.10"/>
<ellipse cx="794.6" cy="406.6" rx="1.5" ry="1.8" fill="#1c1c1c" stroke="#1c1c1c" stroke-width="1.10"/>
<path d="M681.0,430.0 L743.0,437.5 L800.0,443.0" fill="none" stroke="#1c1c1c" stroke-width="1.52" />
<path d="M680.6,431.6 L760.0,439.9 L801.4,444.9 L859.3,440.7" fill="none" stroke="#1c1c1c" stroke-width="1.52" />
<line x1="800" y1="388" x2="800" y2="443.5" stroke="#1c1c1c" stroke-width="1.52"/>
<line x1="797.6" y1="340" x2="798.2" y2="443" stroke="#1c1c1c" stroke-width="1.10"/>
<path d="M666.5,445.7 L767.5,457.3 L793.1,457.3 L861,442.4 Q866,442.6 869.3,445.7 L873.4,449.8" fill="none" stroke="#1c1c1c" stroke-width="1.52" />
<path d="M664.9,449 L767.5,460.6 L794.8,462.3 L806,458.3 L849.4,450.8 L866,447.6" fill="none" stroke="#1c1c1c" stroke-width="1.24" />
<path d="M666.5,445.7 L707.9,436.6" fill="none" stroke="#1c1c1c" stroke-width="1.52" />
<path d="M655.8,455 Q656,450.5 660,448.6 L666.5,445.7" fill="none" stroke="#1c1c1c" stroke-width="1.52" />
<path d="M670,445 L708.5,438 L739,441.5 L722,446.5 Z" fill="none" stroke="#1c1c1c" stroke-width="0.83" />
<path d="M737.0,441.0 C738.5,441.7 741.3,444.1 746.0,445.0 C750.7,445.9 757.7,446.3 765.0,446.5 C772.3,446.7 784.2,446.3 790.0,446.0 C795.8,445.7 798.3,444.8 800.0,444.5" fill="none" stroke="#1c1c1c" stroke-width="1.10"/>
<path d="M739.5,439.5 C741.2,440.1 744.9,442.2 750.0,443.0 C755.1,443.8 762.5,444.2 770.0,444.3 C777.5,444.4 790.8,443.6 795.0,443.5" fill="none" stroke="#1c1c1c" stroke-width="0.83"/>
<path d="M655.8,455 L655.8,491.5 Q656,495.6 659.9,497.8 L663,499 L767.5,509.4 L795.6,506.1 L809.7,502.8 L849.4,497.8 L874.2,494.5 L875.1,474.7 L873.4,449.8" fill="none" stroke="#1c1c1c" stroke-width="1.52" />
<path d="M663.2,492.9 L767.5,506.1 L794.8,503" fill="none" stroke="#1c1c1c" stroke-width="1.10" />
<line x1="767.5" y1="460.6" x2="767.5" y2="509.4" stroke="#1c1c1c" stroke-width="1.24"/>
<line x1="794.8" y1="462.3" x2="794.8" y2="506.1" stroke="#1c1c1c" stroke-width="1.24"/>
<path d="M804.7,458.3 L849.4,450" fill="none" stroke="#1c1c1c" stroke-width="2.76" />
<line x1="808.8" y1="459" x2="809.7" y2="502.8" stroke="#1c1c1c" stroke-width="1.10"/>
<line x1="849.4" y1="450.5" x2="849.4" y2="497.8" stroke="#1c1c1c" stroke-width="1.24"/>
<line x1="851.9" y1="450" x2="851.9" y2="497.4" stroke="#1c1c1c" stroke-width="0.97"/>
<path d="M660.7,498.7 L661.4,508 Q661.5,510.3 664,510.5 L673,511.1 Q675.6,511.1 675.6,508.7 L675.6,500.3" fill="#fff" stroke="#1c1c1c" stroke-width="1.52" />
<path d="M784,509.4 L784.6,522.5 Q784.8,525 787.3,525 L794.7,525 Q797.25,525 797.25,522.5 L797.25,507.8" fill="#fff" stroke="#1c1c1c" stroke-width="1.52" />
<path d="M856,497.8 L856.8,511.2 Q856.9,513.6 859.4,513.6 L866,513.6 Q868.4,513.6 868.5,511.2 L869.3,495.4" fill="#fff" stroke="#1c1c1c" stroke-width="1.52" />
<clipPath id="fr1"><path d="M662.4,455.4 L689.7,458.4 L689.7,494.4 L662.4,491.2 Z"/></clipPath>
<path d="M662.4,455.4 L689.7,458.4 L689.7,494.4 L662.4,491.2 Z" fill="#8c8c8c" stroke="#1c1c1c" stroke-width="1.0"/>
<g clip-path="url(#fr1)">
<rect x="662.40" y="454.4" width="2.2" height="41.0" fill="#262626"/>
<rect x="665.15" y="454.4" width="0.75" height="41.0" fill="#f4f4f4"/>
<rect x="666.40" y="454.4" width="2.2" height="41.0" fill="#262626"/>
<rect x="669.15" y="454.4" width="0.75" height="41.0" fill="#f4f4f4"/>
<rect x="670.40" y="454.4" width="2.2" height="41.0" fill="#262626"/>
<rect x="673.15" y="454.4" width="0.75" height="41.0" fill="#f4f4f4"/>
<rect x="674.40" y="454.4" width="2.2" height="41.0" fill="#262626"/>
<rect x="677.15" y="454.4" width="0.75" height="41.0" fill="#f4f4f4"/>
<rect x="678.40" y="454.4" width="2.2" height="41.0" fill="#262626"/>
<rect x="681.15" y="454.4" width="0.75" height="41.0" fill="#f4f4f4"/>
<rect x="682.40" y="454.4" width="2.2" height="41.0" fill="#262626"/>
<rect x="685.15" y="454.4" width="0.75" height="41.0" fill="#f4f4f4"/>
<rect x="686.40" y="454.4" width="2.2" height="41.0" fill="#262626"/>
<rect x="689.15" y="454.4" width="0.75" height="41.0" fill="#f4f4f4"/>
</g>
<clipPath id="fr2"><path d="M740.2,464.3 L765,467 L765,503.2 L740.2,500.3 Z"/></clipPath>
<path d="M740.2,464.3 L765,467 L765,503.2 L740.2,500.3 Z" fill="#8c8c8c" stroke="#1c1c1c" stroke-width="1.0"/>
<g clip-path="url(#fr2)">
<rect x="740.20" y="463.3" width="2.2" height="40.89999999999998" fill="#262626"/>
<rect x="742.95" y="463.3" width="0.75" height="40.89999999999998" fill="#f4f4f4"/>
<rect x="744.20" y="463.3" width="2.2" height="40.89999999999998" fill="#262626"/>
<rect x="746.95" y="463.3" width="0.75" height="40.89999999999998" fill="#f4f4f4"/>
<rect x="748.20" y="463.3" width="2.2" height="40.89999999999998" fill="#262626"/>
<rect x="750.95" y="463.3" width="0.75" height="40.89999999999998" fill="#f4f4f4"/>
<rect x="752.20" y="463.3" width="2.2" height="40.89999999999998" fill="#262626"/>
<rect x="754.95" y="463.3" width="0.75" height="40.89999999999998" fill="#f4f4f4"/>
<rect x="756.20" y="463.3" width="2.2" height="40.89999999999998" fill="#262626"/>
<rect x="758.95" y="463.3" width="0.75" height="40.89999999999998" fill="#f4f4f4"/>
<rect x="760.20" y="463.3" width="2.2" height="40.89999999999998" fill="#262626"/>
<rect x="762.95" y="463.3" width="0.75" height="40.89999999999998" fill="#f4f4f4"/>
<rect x="764.20" y="463.3" width="2.2" height="40.89999999999998" fill="#262626"/>
<rect x="766.95" y="463.3" width="0.75" height="40.89999999999998" fill="#f4f4f4"/>
</g>
<path d="M661.6,450.7 L767.5,462.3 L767.5,467.2 L661.6,455.5 Z" fill="#3a3a3a" stroke="#1c1c1c" stroke-width="0.8"/>
<path d="M662.5,453.2 L767,464.8" stroke="#9a9a9a" stroke-width="1.5" stroke-dasharray="1.5 2.3" fill="none"/>
<path d="M698.3,463.4 L722.8,466.4 L722.8,492.0 L698.3,488.7 Z" fill="#fff" stroke="#1c1c1c" stroke-width="1.66" />
<path d="M701.3,466.2 L721.4,468.7 L721.6,489.3 L701.3,486.6 Z" fill="#fff" stroke="#1c1c1c" stroke-width="1.24" />
<path d="M698.8,488.3 L722.6,491.5" fill="none" stroke="#1c1c1c" stroke-width="2.48" />
<rect x="690.5" y="459.5" width="2" height="2" fill="#333"/>
<rect x="690.5" y="490.5" width="2" height="2" fill="#333"/>
<rect x="714.8" y="460.5" width="2" height="2" fill="#333"/>
<rect x="714.8" y="494.2" width="2" height="2" fill="#333"/>
<ellipse cx="730.8" cy="480.5" rx="7.0" ry="9.4" fill="#fff" stroke="#1c1c1c" stroke-width="2.07"/>
<ellipse cx="730.8" cy="480.5" rx="5.0" ry="6.9" fill="#fff" stroke="#3a3a3a" stroke-width="3.31"/>
<ellipse cx="730.8" cy="480.5" rx="2.1" ry="2.9" fill="#fff" stroke="#1c1c1c" stroke-width="1.79"/>
<circle cx="735.8" cy="480.5" r="0.8" fill="#ddd"/>
<circle cx="734.3" cy="485.4" r="0.8" fill="#ddd"/>
<circle cx="730.8" cy="487.4" r="0.8" fill="#ddd"/>
<circle cx="727.3" cy="485.4" r="0.8" fill="#ddd"/>
<circle cx="725.8" cy="480.5" r="0.8" fill="#ddd"/>
<circle cx="727.3" cy="475.6" r="0.8" fill="#ddd"/>
<circle cx="730.8" cy="473.6" r="0.8" fill="#ddd"/>
<circle cx="734.3" cy="475.6" r="0.8" fill="#ddd"/>
<path d="M706,503.5 L706,508.5 L714,509.3 L717,506 M719,506.5 a2.2,2.2 0 1,0 4.4,0.4 a2.2,2.2 0 1,0 -4.4,-0.4 M727,505.7 L727,510.5 L736,511.2 L736,506.6 M737,507.5 L737,514 L742,514.3 L742,508 M748.5,508 L748.5,513.5 L753.5,514 L753.5,508.5 M757,509 L757,512.5 L781,512 L781,509.5" fill="none" stroke="#1c1c1c" stroke-width="1.38" />
<path d="M728.5,507 L735,507.6 L735,510 L728.5,509.5 Z M760,509.5 L779,509.3 L779,511.5 L760,511.8 Z" fill="#444" stroke="#1c1c1c" stroke-width="0.69" />
<path d="M799,504.8 L799,510 L803,510.5 L803,505 M805,504 L805,509.5 L812,508.5 L812,502.5 M813.5,502 L813.5,507.5 L816,507 L816,501.8" fill="none" stroke="#1c1c1c" stroke-width="1.38" />
<path d="M796.25,473.4 L815,471.9 L855.6,467.2 Q860,465.6 863.4,463.4 Q866.5,462.4 869.7,463.4 Q872.6,465 872.8,468.5 L872.8,475.5 Q872.4,479 869.7,480.6 L855.6,483.75 L811.9,491.25 L796.25,490.6 Z" fill="#fff" stroke="#1c1c1c" stroke-width="1.52" />
<path d="M804.7,475.3 L855.6,470 Q860.5,468.3 864,465.8" fill="none" stroke="#1c1c1c" stroke-width="1.10" />
<path d="M816,487.3 L855.6,480.8 L869,477.8" fill="none" stroke="#1c1c1c" stroke-width="1.10" />
<line x1="804.7" y1="472.7" x2="804.7" y2="491" stroke="#1c1c1c" stroke-width="1.10"/>
<line x1="799" y1="473.2" x2="799" y2="490.7" stroke="#1c1c1c" stroke-width="0.97"/>
<ellipse cx="810.5" cy="483" rx="4.4" ry="4.4" fill="#fff" stroke="#1c1c1c" stroke-width="1.38"/>
<ellipse cx="859.5" cy="465.2" rx="1.8" ry="1.1" fill="none" stroke="#1c1c1c" stroke-width="1.10" transform="rotate(-30 859.5 465.2)"/>
<line x1="243.5" y1="92" x2="243.5" y2="179" stroke="#4a4a4a" stroke-width="1.00"/>
<line x1="328.5" y1="55" x2="328.5" y2="146" stroke="#4a4a4a" stroke-width="1.00"/>
<line x1="258.6" y1="89.8" x2="268.3" y2="85.5" stroke="#6e6e6e" stroke-width="1.10"/>
<line x1="306" y1="70.5" x2="317.8" y2="64.6" stroke="#6e6e6e" stroke-width="1.10"/>
<path d="M248.9,94.0 L255.9,86.4 L259.3,94.1 Z" fill="#2a2a2a"/>
<path d="M324.2,61.2 L317.2,68.8 L313.8,61.1 Z" fill="#2a2a2a"/>
<text x="287" y="84" font-size="20.5" text-anchor="middle" class="dim">292</text>
<line x1="316" y1="124.3" x2="477" y2="124.3" stroke="#4a4a4a" stroke-width="1.00"/>
<line x1="375" y1="208.3" x2="437.7" y2="208.3" stroke="#4a4a4a" stroke-width="1.00"/>
<line x1="366" y1="268.3" x2="406.4" y2="268.3" stroke="#4a4a4a" stroke-width="1.00"/>
<line x1="335.7" y1="525.5" x2="476.7" y2="525.5" stroke="#4a4a4a" stroke-width="1.00"/>
<line x1="400.7" y1="283" x2="400.7" y2="510" stroke="#6e6e6e" stroke-width="1.10"/>
<path d="M400.7,278.0 L404.9,287.5 L396.5,287.5 Z" fill="#2a2a2a"/>
<path d="M400.7,515.3 L396.5,505.8 L404.9,505.8 Z" fill="#2a2a2a"/>
<line x1="431.1" y1="223.7" x2="431.1" y2="510" stroke="#6e6e6e" stroke-width="1.10"/>
<path d="M431.1,218.7 L435.3,228.2 L426.9,228.2 Z" fill="#2a2a2a"/>
<path d="M431.1,515.3 L426.9,505.8 L435.3,505.8 Z" fill="#2a2a2a"/>
<line x1="471.5" y1="139.3" x2="471.5" y2="510" stroke="#6e6e6e" stroke-width="1.10"/>
<path d="M471.5,134.3 L475.7,143.8 L467.3,143.8 Z" fill="#2a2a2a"/>
<path d="M471.5,515.3 L467.3,505.8 L475.7,505.8 Z" fill="#2a2a2a"/>
<text x="395.3" y="396" font-size="20.5" text-anchor="middle" class="dim" transform="rotate(-90 395.3 396)">533</text>
<text x="425.6" y="367.5" font-size="20.5" text-anchor="middle" class="dim" transform="rotate(-90 425.6 367.5)">664</text>
<text x="466.6" y="324" font-size="20.5" text-anchor="middle" class="dim" transform="rotate(-90 466.6 324)">845</text>
<line x1="75.4" y1="513.2" x2="147.5" y2="450.8" stroke="#4a4a4a" stroke-width="1.00"/>
<line x1="305.5" y1="533.6" x2="379.8" y2="470" stroke="#4a4a4a" stroke-width="1.00"/>
<line x1="96" y1="510.5" x2="296" y2="527.8" stroke="#6e6e6e" stroke-width="1.10"/>
<path d="M90.5,510.0 L100.3,506.6 L99.6,515.0 Z" fill="#2a2a2a"/>
<path d="M301.2,528.3 L291.4,531.7 L292.1,523.3 Z" fill="#2a2a2a"/>
<text x="196" y="540" font-size="20.5" text-anchor="middle" class="dim">502</text>
<line x1="706.8" y1="111" x2="692" y2="139.2" stroke="#4a4a4a" stroke-width="1.00"/>
<line x1="911.4" y1="225" x2="898" y2="258" stroke="#4a4a4a" stroke-width="1.00"/>
<line x1="708" y1="115.7" x2="903.5" y2="226.9" stroke="#6e6e6e" stroke-width="1.10"/>
<path d="M703.5,113.1 L713.8,114.1 L709.7,121.4 Z" fill="#2a2a2a"/>
<path d="M907.8,229.3 L897.5,228.3 L901.6,221.0 Z" fill="#2a2a2a"/>
<text x="817.4" y="160" font-size="20.5" text-anchor="middle" class="dim" transform="rotate(29.63 817.4 160) translate(0 7.3)">573</text>
<line x1="844.8" y1="272.8" x2="948" y2="272.8" stroke="#4a4a4a" stroke-width="1.00"/>
<line x1="845" y1="515.5" x2="948.3" y2="515.5" stroke="#4a4a4a" stroke-width="1.00"/>
<line x1="944.3" y1="288" x2="944.3" y2="510" stroke="#6e6e6e" stroke-width="1.10"/>
<path d="M944.3,283.0 L948.5,292.5 L940.1,292.5 Z" fill="#2a2a2a"/>
<path d="M944.3,514.7 L940.1,505.2 L948.5,505.2 Z" fill="#2a2a2a"/>
<text x="938.5" y="397" font-size="20.5" text-anchor="middle" class="dim" transform="rotate(-90 938.5 397)">533</text>
<line x1="878" y1="518.7" x2="947" y2="526" stroke="#4a4a4a" stroke-width="1.00"/>
<line x1="796" y1="540" x2="880.7" y2="549" stroke="#4a4a4a" stroke-width="1.00"/>
<line x1="876" y1="544" x2="934" y2="529.9" stroke="#6e6e6e" stroke-width="1.10"/>
<path d="M871.4,545.2 L879.6,538.9 L881.6,547.0 Z" fill="#2a2a2a"/>
<path d="M939.0,528.7 L930.8,535.0 L928.8,526.9 Z" fill="#2a2a2a"/>
<text x="877.4" y="536" font-size="20.5" text-anchor="middle" class="dim">300</text>
</svg>
</body></html>
